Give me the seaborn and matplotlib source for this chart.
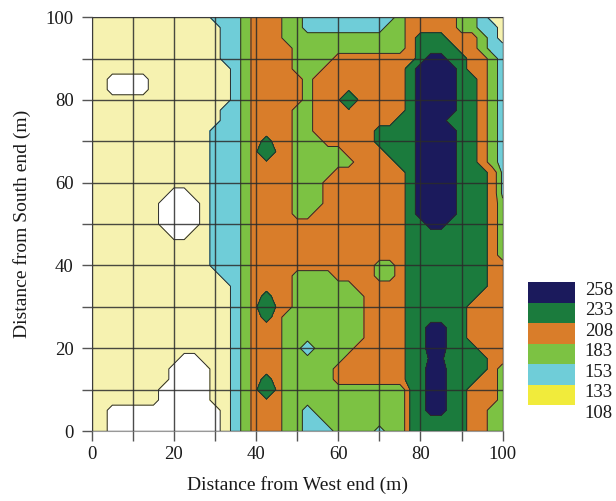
import numpy as np
import matplotlib
matplotlib.use("Agg")
import matplotlib.pyplot as plt
import seaborn as sns

# band edges of the survey key (readings under 108 are left blank)
band_levels = [108, 133, 153, 183, 208, 233, 258]
band_labels = ["258", "233", "208", "183", "153", "133", "108"]
map_colors = ["#f6f2b0", "#6fcdd8", "#7cc243", "#d97d2a", "#1b7b3d", "#1b1a5c"]
key_colors = ["#f1eb3b", "#6fcdd8", "#7cc243", "#d97d2a", "#1b7b3d", "#1b1a5c"]

# typical reading for each colour zone seen on the map
zone_value = {"W": 96, "Y": 120, "c": 136, "C": 146, "G": 160,
              "O": 206, "D": 210, "E": 230, "M": 240, "N": 256}

x_pos = np.arange(0, 100.1, 2.5)
y_pos = np.arange(100, -0.1, -2.5)

# each row (north -> south): zone code up to a distance from the west end
survey_rows = [
    [("Y", 27.5), ("C", 35), ("G", 37.5), ("O", 45), ("G", 50), ("C", 72.5), ("G", 75), ("O", 87.5), ("G", 92.5), ("C", 95), ("Y", 100)],  # 100
    [("Y", 30), ("C", 35), ("G", 37.5), ("O", 45), ("G", 50), ("C", 70), ("G", 75), ("O", 87.5), ("G", 92.5), ("C", 97.5), ("Y", 100)],  # 97.5
    [("Y", 30), ("C", 35), ("G", 37.5), ("O", 45), ("G", 75), ("O", 77.5), ("D", 85), ("O", 92.5), ("G", 95), ("C", 97.5), ("Y", 100)],  # 95
    [("Y", 30), ("C", 35), ("G", 37.5), ("O", 47.5), ("G", 75), ("O", 77.5), ("D", 87.5), ("O", 92.5), ("G", 95), ("C", 100)],  # 92.5
    [("Y", 30), ("C", 35), ("G", 37.5), ("O", 47.5), ("G", 57.5), ("O", 77.5), ("D", 80), ("N", 85), ("D", 90), ("O", 95), ("G", 97.5), ("C", 100)],  # 90
    [("Y", 32.5), ("C", 35), ("G", 37.5), ("O", 47.5), ("G", 55), ("O", 75), ("D", 77.5), ("N", 87.5), ("D", 90), ("O", 95), ("G", 97.5), ("C", 100)],  # 87.5
    [("Y", 2.5), ("W", 12.5), ("Y", 32.5), ("C", 35), ("G", 37.5), ("O", 50), ("G", 52.5), ("O", 75), ("D", 77.5), ("N", 87.5), ("D", 92.5), ("O", 95), ("G", 97.5), ("C", 100)],  # 85
    [("Y", 2.5), ("W", 12.5), ("Y", 32.5), ("C", 35), ("G", 37.5), ("O", 50), ("G", 52.5), ("O", 75), ("D", 77.5), ("N", 87.5), ("D", 92.5), ("O", 95), ("G", 97.5), ("C", 100)],  # 82.5
    [("Y", 32.5), ("C", 35), ("G", 37.5), ("O", 50), ("G", 52.5), ("O", 60), ("E", 62.5), ("O", 75), ("D", 77.5), ("N", 87.5), ("D", 92.5), ("O", 95), ("G", 97.5), ("C", 100)],  # 80
    [("Y", 30), ("C", 35), ("G", 37.5), ("O", 47.5), ("G", 52.5), ("O", 75), ("D", 77.5), ("N", 87.5), ("D", 92.5), ("O", 95), ("G", 97.5), ("C", 100)],  # 77.5
    [("Y", 30), ("C", 35), ("G", 37.5), ("O", 47.5), ("G", 52.5), ("O", 72.5), ("D", 77.5), ("N", 85), ("D", 92.5), ("O", 95), ("G", 97.5), ("C", 100)],  # 75
    [("Y", 27.5), ("C", 35), ("G", 37.5), ("O", 47.5), ("G", 52.5), ("O", 67.5), ("D", 77.5), ("N", 87.5), ("D", 92.5), ("O", 95), ("G", 97.5), ("C", 100)],  # 72.5
    [("Y", 27.5), ("C", 35), ("G", 37.5), ("O", 40), ("D", 42.5), ("O", 47.5), ("G", 55), ("O", 67.5), ("D", 77.5), ("N", 87.5), ("D", 92.5), ("O", 95), ("G", 97.5), ("C", 100)],  # 70
    [("Y", 27.5), ("C", 35), ("G", 37.5), ("O", 40), ("E", 42.5), ("O", 47.5), ("G", 60), ("O", 70), ("D", 77.5), ("N", 87.5), ("D", 92.5), ("O", 95), ("G", 97.5), ("C", 100)],  # 67.5
    [("Y", 27.5), ("C", 35), ("G", 37.5), ("O", 47.5), ("G", 62.5), ("O", 72.5), ("D", 77.5), ("N", 87.5), ("D", 92.5), ("O", 95), ("G", 97.5), ("C", 100)],  # 65
    [("Y", 27.5), ("C", 35), ("G", 37.5), ("O", 47.5), ("G", 57.5), ("O", 75), ("D", 77.5), ("N", 87.5), ("D", 95), ("O", 97.5), ("C", 100)],  # 62.5
    [("Y", 27.5), ("C", 35), ("G", 37.5), ("O", 47.5), ("G", 55), ("O", 75), ("D", 77.5), ("N", 87.5), ("D", 95), ("O", 97.5), ("C", 100)],  # 60
    [("Y", 17.5), ("W", 22.5), ("Y", 27.5), ("C", 35), ("G", 37.5), ("O", 47.5), ("G", 55), ("O", 75), ("D", 77.5), ("N", 87.5), ("D", 95), ("O", 97.5), ("C", 100)],  # 57.5
    [("Y", 15), ("W", 25), ("Y", 27.5), ("C", 35), ("G", 37.5), ("O", 47.5), ("G", 55), ("O", 75), ("D", 77.5), ("N", 87.5), ("D", 95), ("O", 97.5), ("G", 100)],  # 55
    [("Y", 15), ("W", 25), ("Y", 27.5), ("C", 35), ("G", 37.5), ("O", 47.5), ("G", 52.5), ("O", 75), ("D", 77.5), ("N", 87.5), ("D", 95), ("O", 97.5), ("G", 100)],  # 52.5
    [("Y", 15), ("W", 25), ("Y", 27.5), ("C", 35), ("G", 37.5), ("O", 75), ("D", 80), ("N", 85), ("D", 95), ("O", 97.5), ("G", 100)],  # 50
    [("Y", 17.5), ("W", 22.5), ("Y", 27.5), ("C", 35), ("G", 37.5), ("O", 75), ("D", 95), ("O", 97.5), ("G", 100)],  # 47.5
    [("Y", 27.5), ("C", 35), ("G", 37.5), ("O", 75), ("D", 95), ("O", 97.5), ("G", 100)],  # 45
    [("Y", 27.5), ("C", 35), ("G", 37.5), ("O", 75), ("D", 95), ("O", 97.5), ("G", 100)],  # 42.5
    [("Y", 27.5), ("C", 35), ("G", 37.5), ("O", 67.5), ("G", 72.5), ("O", 75), ("D", 95), ("O", 100)],  # 40
    [("Y", 30), ("C", 35), ("G", 37.5), ("O", 47.5), ("G", 57.5), ("O", 67.5), ("G", 72.5), ("O", 75), ("D", 95), ("O", 100)],  # 37.5
    [("Y", 32.5), ("C", 35), ("G", 37.5), ("O", 47.5), ("G", 62.5), ("O", 75), ("D", 95), ("O", 100)],  # 35
    [("Y", 32.5), ("C", 35), ("G", 37.5), ("O", 40), ("D", 42.5), ("O", 47.5), ("G", 65), ("O", 75), ("D", 92.5), ("O", 100)],  # 32.5
    [("Y", 32.5), ("C", 35), ("G", 37.5), ("O", 40), ("E", 42.5), ("O", 47.5), ("G", 65), ("O", 75), ("D", 90), ("O", 100)],  # 30
    [("Y", 32.5), ("C", 35), ("G", 37.5), ("O", 40), ("D", 42.5), ("O", 45), ("G", 65), ("O", 75), ("D", 90), ("O", 100)],  # 27.5
    [("Y", 32.5), ("C", 35), ("G", 37.5), ("O", 45), ("G", 65), ("O", 75), ("D", 80), ("N", 85), ("D", 90), ("O", 100)],  # 25
    [("Y", 32.5), ("C", 35), ("G", 37.5), ("O", 45), ("G", 65), ("O", 75), ("D", 80), ("N", 85), ("D", 90), ("O", 100)],  # 22.5
    [("Y", 32.5), ("C", 35), ("G", 37.5), ("O", 45), ("G", 50), ("c", 52.5), ("G", 62.5), ("O", 75), ("D", 80), ("N", 85), ("D", 92.5), ("O", 100)],  # 20
    [("Y", 20), ("W", 25), ("Y", 32.5), ("C", 35), ("G", 37.5), ("O", 45), ("G", 60), ("O", 75), ("D", 80), ("M", 85), ("D", 95), ("O", 100)],  # 17.5
    [("Y", 17.5), ("W", 27.5), ("Y", 32.5), ("C", 35), ("G", 37.5), ("O", 45), ("G", 57.5), ("O", 75), ("D", 80), ("N", 85), ("D", 95), ("O", 97.5), ("G", 100)],  # 15
    [("Y", 17.5), ("W", 27.5), ("Y", 32.5), ("C", 35), ("G", 37.5), ("O", 40), ("D", 42.5), ("O", 45), ("G", 57.5), ("O", 75), ("D", 80), ("N", 85), ("D", 92.5), ("O", 97.5), ("G", 100)],  # 12.5
    [("Y", 15), ("W", 27.5), ("Y", 32.5), ("C", 35), ("G", 37.5), ("O", 40), ("E", 42.5), ("O", 45), ("G", 75), ("D", 80), ("N", 85), ("D", 90), ("O", 97.5), ("G", 100)],  # 10
    [("Y", 15), ("W", 27.5), ("Y", 32.5), ("C", 35), ("G", 37.5), ("O", 45), ("G", 75), ("D", 80), ("N", 85), ("D", 90), ("O", 97.5), ("G", 100)],  # 7.5
    [("Y", 2.5), ("W", 30), ("Y", 32.5), ("C", 35), ("G", 37.5), ("O", 45), ("G", 50), ("C", 52.5), ("G", 75), ("D", 80), ("N", 85), ("D", 90), ("O", 95), ("G", 100)],  # 5
    [("Y", 2.5), ("W", 30), ("Y", 32.5), ("C", 35), ("G", 37.5), ("O", 45), ("G", 50), ("C", 55), ("G", 75), ("D", 90), ("O", 95), ("G", 100)],  # 2.5
    [("Y", 2.5), ("W", 30), ("Y", 32.5), ("C", 35), ("G", 37.5), ("O", 45), ("G", 50), ("C", 57.5), ("G", 67.5), ("C", 70), ("G", 75), ("D", 90), ("O", 95), ("G", 100)],  # 0
]

# turn the rows into a grid of readings
Z = np.zeros((len(y_pos), len(x_pos)))
for j, runs in enumerate(survey_rows):
    for i, x in enumerate(x_pos):
        for code, x_end in runs:
            if x <= x_end + 1e-6:
                Z[j, i] = zone_value[code]
                break

sns.set_theme(style="ticks")
plt.rcParams["font.family"] = ["Liberation Serif", "DejaVu Serif"]

fig = plt.figure(figsize=(6.16, 5.01), dpi=100)
ax = fig.add_axes([0.149, 0.1397, 0.667, 0.826])

ax.contourf(x_pos, y_pos, Z, levels=band_levels, colors=map_colors)
ax.contour(x_pos, y_pos, Z, levels=band_levels, colors="#2a2a2a", linewidths=0.7)

ax.set_xlim(0, 100)
ax.set_ylim(0, 100)
ticks = np.arange(0, 101, 10)
tick_text = [str(t) if t % 20 == 0 else "" for t in ticks]
ax.set_xticks(ticks)
ax.set_xticklabels(tick_text)
ax.set_yticks(ticks)
ax.set_yticklabels(tick_text)
ax.grid(True, color="#2b2b2b", linewidth=1.0, alpha=0.85)
ax.set_axisbelow(False)
ax.tick_params(direction="out", length=7, width=1, color="#555555",
               labelsize=13.5, labelcolor="#1a1a1a")
ax.tick_params(axis="x", pad=4)
ax.tick_params(axis="y", pad=6)
for s in ax.spines.values():
    s.set_color("#999999")
    s.set_linewidth(0.8)

ax.set_xlabel("Distance from West end (m)", fontsize=14, color="#1a1a1a")
ax.set_ylabel("Distance from South end (m)", fontsize=14, color="#1a1a1a")
ax.xaxis.set_label_coords(0.5, -0.108)
ax.yaxis.set_label_coords(-0.148, 0.5)

# colour key
kx = fig.add_axes([528 / 616, 1 - 405 / 501, 47 / 616, 123 / 501])
for k, col in enumerate(key_colors):
    kx.bar(0.5, 1, bottom=k, width=1, color=col, edgecolor="none")
kx.set_xlim(0, 1)
kx.set_ylim(0, 6)
kx.axis("off")
for k, lab in enumerate(band_labels):
    kx.text(1.21, 5.6 - k, lab, fontsize=13.5, va="center", ha="left",
            color="#1a1a1a", clip_on=False)

fig.savefig("out.png", dpi=100)
